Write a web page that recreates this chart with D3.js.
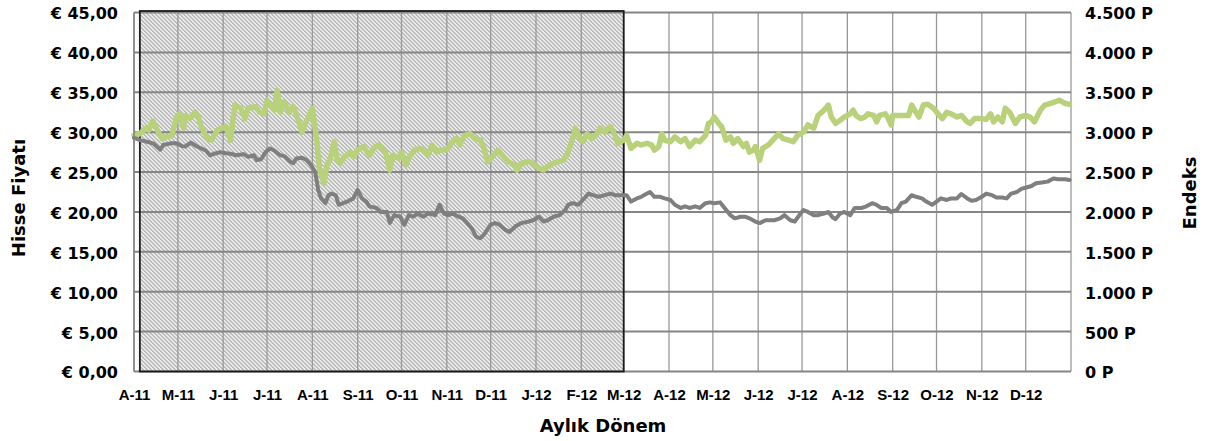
<!DOCTYPE html>
<html>
<head>
<meta charset="utf-8">
<script src="https://cdn.jsdelivr.net/npm/d3@7"></script>
<style>
  body { margin: 0; background: #fff; }
  #chart { width: 1206px; height: 441px; }
</style>
</head>
<body>
<div id="chart"></div>
<script>
var monthLabels = ["A-11","M-11","J-11","J-11","A-11","S-11","O-11","N-11","D-11","J-12","F-12","M-12",
                   "A-12","M-12","J-12","J-12","A-12","S-12","O-12","N-12","D-12"];
var priceTicks = [0, 5, 10, 15, 20, 25, 30, 35, 40, 45];
var indexTicks = [0, 500, 1000, 1500, 2000, 2500, 3000, 3500, 4000, 4500];
var period = ["2011-04-01", "2013-01-01"];
var highlight = ["2011-04-05", "2012-03-01"];

// Endeks (P)
var indexSeries = [
  ["2011-04-01",2960],["2011-04-05",2980],["2011-04-09",3050],["2011-04-11",3025],["2011-04-14",3140],["2011-04-17",3025],
  ["2011-04-20",2920],["2011-04-23",2940],["2011-04-27",2960],["2011-04-30",3190],["2011-05-02",3230],["2011-05-05",3050],
  ["2011-05-06",3210],["2011-05-09",3170],["2011-05-13",3250],["2011-05-15",3190],["2011-05-17",3070],["2011-05-21",2920],
  ["2011-05-24",2900],["2011-05-28",3025],["2011-05-31",3050],["2011-06-03",3070],["2011-06-06",2900],["2011-06-09",3340],
  ["2011-06-13",3300],["2011-06-16",3170],["2011-06-18",3300],["2011-06-23",3320],["2011-06-26",3250],["2011-06-29",3230],
  ["2011-07-01",3400],["2011-07-03",3340],["2011-07-06",3275],["2011-07-08",3525],["2011-07-10",3250],["2011-07-13",3380],
  ["2011-07-16",3250],["2011-07-19",3320],["2011-07-21",3230],["2011-07-25",3000],["2011-07-27",3110],["2011-07-29",3170],
  ["2011-08-01",3300],["2011-08-04",2900],["2011-08-06",2525],["2011-08-09",2360],["2011-08-11",2590],["2011-08-13",2650],
  ["2011-08-16",2880],["2011-08-18",2650],["2011-08-20",2610],["2011-08-23",2690],["2011-08-27",2750],["2011-08-29",2690],
  ["2011-09-01",2775],["2011-09-05",2820],["2011-09-09",2710],["2011-09-13",2820],["2011-09-16",2840],["2011-09-20",2750],
  ["2011-09-23",2525],["2011-09-25",2710],["2011-09-29",2670],["2011-10-01",2750],["2011-10-04",2590],["2011-10-07",2710],
  ["2011-10-10",2775],["2011-10-14",2796],["2011-10-17",2750],["2011-10-19",2710],["2011-10-22",2840],["2011-10-25",2750],
  ["2011-10-28",2775],["2011-11-01",2775],["2011-11-04",2860],["2011-11-07",2920],["2011-11-10",2840],["2011-11-13",2960],
  ["2011-11-17",2980],["2011-11-20",2920],["2011-11-24",2900],["2011-11-26",2820],["2011-11-29",2630],["2011-12-03",2710],
  ["2011-12-06",2775],["2011-12-10",2690],["2011-12-13",2630],["2011-12-17",2590],["2011-12-19",2525],["2011-12-22",2610],
  ["2011-12-27",2630],["2011-12-30",2610],["2012-01-03",2550],["2012-01-06",2525],["2012-01-09",2570],["2012-01-13",2610],
  ["2012-01-16",2630],["2012-01-20",2650],["2012-01-23",2750],["2012-01-25",2860],["2012-01-28",3050],["2012-01-30",2960],
  ["2012-02-02",2880],["2012-02-05",2980],["2012-02-08",2920],["2012-02-11",2960],["2012-02-14",3050],["2012-02-17",3000],
  ["2012-02-21",3070],["2012-02-24",2960],["2012-02-26",2860],["2012-03-01",2900],["2012-03-03",2960],["2012-03-06",2796],
  ["2012-03-10",2860],["2012-03-13",2840],["2012-03-17",2860],["2012-03-20",2840],["2012-03-22",2775],["2012-03-25",2820],
  ["2012-03-27",2980],["2012-03-29",2900],["2012-04-02",2880],["2012-04-05",2940],["2012-04-09",2880],["2012-04-12",2920],
  ["2012-04-15",2820],["2012-04-19",2900],["2012-04-22",2880],["2012-04-26",2960],["2012-04-28",3110],["2012-04-30",3130],
  ["2012-05-02",3190],["2012-05-05",3110],["2012-05-07",3070],["2012-05-10",2900],["2012-05-13",2940],["2012-05-15",2860],
  ["2012-05-18",2920],["2012-05-22",2820],["2012-05-24",2860],["2012-05-26",2750],["2012-05-29",2775],["2012-05-30",2820],
  ["2012-06-02",2650],["2012-06-04",2796],["2012-06-08",2840],["2012-06-11",2900],["2012-06-15",2980],["2012-06-18",2920],
  ["2012-06-22",2900],["2012-06-25",2880],["2012-06-28",2960],["2012-07-02",3000],["2012-07-05",3090],["2012-07-09",3050],
  ["2012-07-12",3210],["2012-07-16",3275],["2012-07-19",3340],["2012-07-21",3190],["2012-07-24",3110],["2012-07-27",3150],
  ["2012-07-30",3190],["2012-08-03",3230],["2012-08-05",3275],["2012-08-07",3210],["2012-08-10",3170],["2012-08-13",3190],
  ["2012-08-15",3230],["2012-08-19",3210],["2012-08-21",3130],["2012-08-23",3210],["2012-08-27",3230],["2012-08-29",3170],
  ["2012-08-31",3090],["2012-09-01",3210],["2012-09-05",3210],["2012-09-08",3210],["2012-09-12",3210],["2012-09-14",3340],
  ["2012-09-16",3275],["2012-09-19",3190],["2012-09-22",3340],["2012-09-25",3350],["2012-09-29",3300],["2012-10-02",3230],
  ["2012-10-05",3170],["2012-10-08",3250],["2012-10-11",3230],["2012-10-15",3190],["2012-10-18",3210],["2012-10-22",3130],
  ["2012-10-24",3110],["2012-10-27",3170],["2012-11-01",3170],["2012-11-04",3160],["2012-11-07",3230],["2012-11-09",3130],
  ["2012-11-12",3190],["2012-11-15",3130],["2012-11-17",3300],["2012-11-20",3250],["2012-11-24",3110],["2012-11-27",3190],
  ["2012-12-01",3210],["2012-12-04",3190],["2012-12-07",3130],["2012-12-11",3275],["2012-12-14",3340],["2012-12-18",3360],
  ["2012-12-21",3380],["2012-12-24",3400],["2012-12-28",3360],["2012-12-31",3350]
];

// Hisse Fiyatı (€)
var priceSeries = [
  ["2011-04-01",29.3],["2011-04-05",29.0],["2011-04-10",28.8],["2011-04-14",28.6],["2011-04-19",27.8],["2011-04-21",28.4],
  ["2011-04-26",28.6],["2011-04-30",28.6],["2011-05-04",28.25],["2011-05-06",28.2],["2011-05-10",28.7],["2011-05-14",28.2],
  ["2011-05-17",27.96],["2011-05-20",27.7],["2011-05-23",27.1],["2011-05-26",27.3],["2011-05-30",27.5],["2011-06-02",27.4],
  ["2011-06-06",27.3],["2011-06-10",27.1],["2011-06-15",27.25],["2011-06-18",26.9],["2011-06-22",27.1],["2011-06-24",26.5],
  ["2011-06-27",26.6],["2011-06-30",27.5],["2011-07-03",27.96],["2011-07-06",27.7],["2011-07-10",27.1],["2011-07-13",27.0],
  ["2011-07-17",26.3],["2011-07-19",26.1],["2011-07-21",26.7],["2011-07-25",26.8],["2011-07-28",26.5],["2011-07-31",25.9],
  ["2011-08-03",25.0],["2011-08-05",22.75],["2011-08-07",21.7],["2011-08-10",21.1],["2011-08-12",22.1],["2011-08-14",22.3],
  ["2011-08-17",22.1],["2011-08-19",20.9],["2011-08-22",21.1],["2011-08-26",21.4],["2011-08-29",21.7],["2011-09-01",22.75],
  ["2011-09-04",21.7],["2011-09-07",21.3],["2011-09-09",20.7],["2011-09-14",20.5],["2011-09-17",20.0],["2011-09-21",20.0],
  ["2011-09-23",18.6],["2011-09-26",19.6],["2011-09-30",19.4],["2011-10-03",18.4],["2011-10-06",19.6],["2011-10-09",19.4],
  ["2011-10-12",19.8],["2011-10-16",19.4],["2011-10-19",19.8],["2011-10-24",19.6],["2011-10-27",20.9],["2011-10-30",19.8],
  ["2011-11-02",19.6],["2011-11-05",19.8],["2011-11-09",19.4],["2011-11-12",19.2],["2011-11-15",18.6],["2011-11-18",17.96],
  ["2011-11-21",16.9],["2011-11-24",16.7],["2011-11-27",17.3],["2011-12-01",18.4],["2011-12-04",18.6],["2011-12-07",18.4],
  ["2011-12-11",17.75],["2011-12-14",17.5],["2011-12-18",18.2],["2011-12-22",18.6],["2011-12-27",18.8],["2011-12-30",18.96],
  ["2012-01-03",19.4],["2012-01-06",18.8],["2012-01-09",18.96],["2012-01-13",19.4],["2012-01-17",19.6],["2012-01-21",20.25],
  ["2012-01-23",20.9],["2012-01-26",21.1],["2012-01-30",20.9],["2012-02-02",21.5],["2012-02-06",22.3],["2012-02-09",22.1],
  ["2012-02-13",21.9],["2012-02-17",22.1],["2012-02-21",22.3],["2012-02-24",22.1],["2012-02-27",22.1],["2012-03-03",22.1],
  ["2012-03-06",21.3],["2012-03-10",21.7],["2012-03-13",21.9],["2012-03-17",22.3],["2012-03-19",22.5],["2012-03-22",21.9],
  ["2012-03-26",21.9],["2012-03-29",21.7],["2012-04-02",21.5],["2012-04-05",20.9],["2012-04-09",20.5],["2012-04-12",20.7],
  ["2012-04-15",20.5],["2012-04-19",20.7],["2012-04-22",20.5],["2012-04-26",21.1],["2012-04-29",21.2],["2012-05-02",21.1],
  ["2012-05-06",21.2],["2012-05-09",20.5],["2012-05-13",19.6],["2012-05-16",19.2],["2012-05-20",19.4],["2012-05-23",19.4],
  ["2012-05-26",19.2],["2012-05-30",18.8],["2012-06-02",18.6],["2012-06-06",18.96],["2012-06-09",18.96],["2012-06-12",18.96],
  ["2012-06-16",19.2],["2012-06-19",19.6],["2012-06-23",18.96],["2012-06-26",18.8],["2012-06-30",19.8],["2012-07-02",20.25],
  ["2012-07-05",20.0],["2012-07-09",19.6],["2012-07-12",19.6],["2012-07-16",19.8],["2012-07-19",20.0],["2012-07-22",19.3],
  ["2012-07-24",19.1],["2012-07-27",19.8],["2012-07-30",20.0],["2012-08-03",19.6],["2012-08-06",20.5],["2012-08-11",20.5],
  ["2012-08-14",20.7],["2012-08-18",21.1],["2012-08-21",20.9],["2012-08-24",20.5],["2012-08-28",20.5],["2012-08-31",20.0],
  ["2012-09-04",20.25],["2012-09-07",21.1],["2012-09-10",21.3],["2012-09-14",22.1],["2012-09-17",21.9],["2012-09-21",21.7],
  ["2012-09-24",21.3],["2012-09-28",20.9],["2012-10-01",21.3],["2012-10-04",21.7],["2012-10-08",21.5],["2012-10-11",21.7],
  ["2012-10-15",21.7],["2012-10-18",22.25],["2012-10-22",21.7],["2012-10-25",21.4],["2012-10-28",21.5],["2012-11-01",21.9],
  ["2012-11-04",22.3],["2012-11-08",22.1],["2012-11-11",21.8],["2012-11-15",21.8],["2012-11-18",21.7],["2012-11-21",22.3],
  ["2012-11-25",22.5],["2012-11-28",22.9],["2012-12-02",23.1],["2012-12-05",23.25],["2012-12-08",23.6],["2012-12-12",23.7],
  ["2012-12-16",23.8],["2012-12-20",24.2],["2012-12-23",24.1],["2012-12-28",24.1],["2012-12-31",24.0]
];

var parse = d3.utcParse("%Y-%m-%d");
var loc = d3.formatLocale({ decimal: ",", thousands: ".", grouping: [3], currency: ["€ ", ""] });
var fmtPrice = loc.format(".2f"), fmtIndex = loc.format(",");

var W = 1206, H = 441;
var margin = { top: 12.5, right: 135, bottom: 69.5, left: 134 };
var width = W - margin.left - margin.right,
    height = H - margin.top - margin.bottom;

var svg = d3.select('#chart').append('svg')
    .attr('width', W)
    .attr('height', H);

var defs = svg.append('defs');
var pat = defs.append('pattern')
    .attr('id', 'hatch')
    .attr('patternUnits', 'userSpaceOnUse')
    .attr('width', 4).attr('height', 4);
pat.append('rect').attr('width', 4).attr('height', 4).attr('fill', '#fff');
pat.append('path')
    .attr('d', 'M-1,-1L5,5M-1,3L1,5M3,-1L5,1')
    .attr('stroke', '#a3a3a3')
    .attr('stroke-width', 1.3);

var g = svg.append('g')
    .attr('transform', 'translate(' + [margin.left, margin.top] + ')');

var x = d3.scaleUtc().domain(period.map(parse)).range([0, width]);
var y = d3.scaleLinear().domain([0, 45]).range([height, 0]);
var yIdx = d3.scaleLinear().domain([0, 4500]).range([height, 0]);

// shaded period
var hx0 = x(parse(highlight[0])), hx1 = x(parse(highlight[1]));
g.append('rect')
    .attr('x', hx0).attr('y', y(45) - 1.5)
    .attr('width', hx1 - hx0).attr('height', y(0) - y(45) + 1.5)
    .attr('fill', 'url(#hatch)');

// grid
var months = d3.utcMonth.range(parse(period[0]), d3.utcDay.offset(parse(period[1]), 1));
g.append('g').selectAll('line')
    .data(months)
    .enter().append('line')
    .attr('x1', d => x(d)).attr('x2', d => x(d))
    .attr('y1', y(45)).attr('y2', y(0))
    .attr('stroke', '#999')
    .attr('stroke-width', 1.3);
g.append('g').selectAll('line')
    .data(priceTicks)
    .enter().append('line')
    .attr('x1', 0).attr('x2', width)
    .attr('y1', d => y(d)).attr('y2', d => y(d))
    .attr('stroke', '#858585')
    .attr('stroke-width', 2);

g.append('rect')
    .attr('x', hx0).attr('y', y(45) - 1.5)
    .attr('width', hx1 - hx0).attr('height', y(0) - y(45) + 1.5)
    .attr('fill', 'none')
    .attr('stroke', '#1a1a1a')
    .attr('stroke-width', 1.8);

// lines
var lineIdx = d3.line().x(d => x(parse(d[0]))).y(d => yIdx(d[1]));
var linePrice = d3.line().x(d => x(parse(d[0]))).y(d => y(d[1]));

g.append('path')
    .datum(indexSeries)
    .attr('d', lineIdx)
    .attr('fill', 'none')
    .attr('stroke', '#b9d17b')
    .attr('stroke-width', 5.5)
    .attr('stroke-linejoin', 'round')
    .attr('stroke-linecap', 'round');

g.append('path')
    .datum(priceSeries)
    .attr('d', linePrice)
    .attr('fill', 'none')
    .attr('stroke', '#7f7f7f')
    .attr('stroke-width', 4)
    .attr('stroke-linejoin', 'round')
    .attr('stroke-linecap', 'round');

// axes
var tickDates = months.slice(0, monthLabels.length);
var xAxis = g.append('g')
    .attr('transform', 'translate(0,' + height + ')')
    .call(d3.axisBottom(x).tickValues(tickDates).tickSize(0).tickPadding(18)
      .tickFormat((d, i) => monthLabels[i]));
xAxis.selectAll('text')
    .style('font-family', '"Liberation Sans", Arial, sans-serif')
    .style('font-weight', 'bold')
    .style('font-size', '15px')
    .attr('fill', '#000');

var yAxis = g.append('g')
    .call(d3.axisLeft(y).tickValues(priceTicks).tickSize(0).tickPadding(16)
      .tickFormat(d => '€ ' + fmtPrice(d)));
var yAxis2 = g.append('g')
    .attr('transform', 'translate(' + width + ',0)')
    .call(d3.axisRight(yIdx).tickValues(indexTicks).tickSize(0).tickPadding(14)
      .tickFormat(d => fmtIndex(d) + ' P'));
[yAxis, yAxis2].forEach(function (a) {
  a.selectAll('text')
      .attr('dy', '0.4em')
      .style('font-family', '"DejaVu Sans", Verdana, sans-serif')
      .style('font-weight', 'bold')
      .style('font-size', '16px')
      .attr('fill', '#000');
});
[xAxis, yAxis, yAxis2].forEach(a => a.select('.domain').remove());

// left axis line
g.append('line')
    .attr('x1', 0).attr('x2', 0)
    .attr('y1', y(45)).attr('y2', y(0))
    .attr('stroke', '#858585')
    .attr('stroke-width', 1.6);

// titles
var titleStyle = function (t) {
  t.style('font-family', '"DejaVu Sans", Verdana, sans-serif')
   .style('font-weight', 'bold')
   .style('font-size', '18px')
   .attr('text-anchor', 'middle')
   .attr('fill', '#000');
};
svg.append('text')
    .attr('transform', 'translate(25,198) rotate(-90)')
    .text('Hisse Fiyatı')
    .call(titleStyle);
svg.append('text')
    .attr('transform', 'translate(1196,193) rotate(-90)')
    .text('Endeks')
    .call(titleStyle);
svg.append('text')
    .attr('x', 603).attr('y', 432)
    .text('Aylık Dönem')
    .call(titleStyle);
</script>
</body>
</html>
